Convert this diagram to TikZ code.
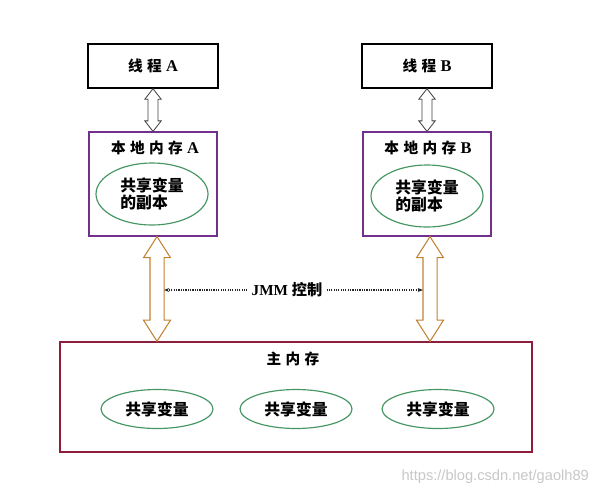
\documentclass[tikz,border=0pt]{standalone}
\usepackage{fontspec}
\setmainfont{Liberation Serif}
\newfontfamily\cjk{Noto Sans CJK SC}
\newfontfamily\wmfont{Liberation Sans}
\usetikzlibrary{positioning,calc,shapes.geometric,arrows.meta}

\definecolor{localcol}{RGB}{112,48,140}
\definecolor{maincol}{RGB}{140,30,60}
\definecolor{varcol}{RGB}{70,150,100}
\definecolor{ctlcol}{RGB}{195,130,50}

\tikzset{
  threadbox/.style={draw=black,line width=1.2pt,minimum width=130\px,minimum height=44\px,font=\bfseries\fontsize{12.5}{14}\selectfont},
  localbox/.style={draw=localcol,line width=1pt,minimum width=128\px,minimum height=104\px},
  mainbox/.style={draw=maincol,line width=1.2pt,minimum width=472\px,minimum height=110\px},
  var/.style={ellipse,draw=varcol,line width=1pt,minimum width=112\px,inner sep=0pt,font=\cjk\bfseries\fontsize{13.5}{15}\selectfont,align=left},
  heading/.style={font=\bfseries\fontsize{12.5}{14}\selectfont},
  jmmline/.style={densely dotted,line width=1pt,black!85,-{Stealth[length=4.5pt]}},
}
% one pixel of the reference
\newlength{\px}\setlength{\px}{0.03cm}

% open double arrow between two points: #1 top, #2 bottom, #3 style, #4 shaft, #5 head, #6 head length
\newcommand{\dblarrow}[6]{%
  \draw[#3] let \p1=(#1), \p2=(#2) in
    (\x1,\y1) -- ++(#5,-#6) -- (\x1+#4,\y1-#6) -- (\x1+#4,\y2+#6) -- (\x1+#5,\y2+#6)
    -- (\x2,\y2) -- (\x1-#5,\y2+#6) -- (\x1-#4,\y2+#6) -- (\x1-#4,\y1-#6)
    -- (\x1-#5,\y1-#6) -- cycle;}
\newcommand{\lat}[1]{{\fontsize{14}{14}\selectfont #1}}

\begin{document}
\begin{tikzpicture}[x=0.03cm,y=-0.03cm]
  \useasboundingbox (0,0) rectangle (600,496);

  % threads
  \node[threadbox] (tA) at (153,66) {{\cjk 线\hspace{0.3em}程}\hspace{0.3em}\lat{A}};
  \node[threadbox] (tB) at (427,66) {{\cjk 线\hspace{0.3em}程}\hspace{0.3em}\lat{B}};

  % local memories
  \node[localbox] (lA) at (153,184) {};
  \node[localbox] (lB) at (427,184) {};
  \node[heading] (hA) at (155,148) {{\cjk 本\hspace{0.3em}地\hspace{0.3em}内\hspace{0.3em}存}\hspace{0.3em}\lat{A}};
  \node[heading] (hB) at (428,148) {{\cjk 本\hspace{0.3em}地\hspace{0.3em}内\hspace{0.3em}存}\hspace{0.3em}\lat{B}};
  \node[var,minimum height=62\px] (cA) at (152,194) {共享变量\\的副本};
  \node[var,minimum height=62\px] (cB) at (427,196) {共享变量\\的副本};

  % main memory
  \node[mainbox] (main) at (296,397) {};
  \node[heading,font=\cjk\bfseries\fontsize{12.5}{14}\selectfont] (hM) at (293,359) {主\hspace{0.3em}内\hspace{0.3em}存};
  \foreach \vx [count=\i] in {157,296,438}
    \node[var,minimum height=39\px] (v\i) at (\vx,409) {共享变量};

  % thread <-> local
  \dblarrow{tA.south}{lA.north}{draw=black!75,line width=0.7pt,fill=white}{4.3pt}{7pt}{9pt}
  \dblarrow{tB.south}{lB.north}{draw=black!75,line width=0.7pt,fill=white}{4.3pt}{7pt}{9pt}

  % local <-> main
  \coordinate (aA) at ($(lA.south)+(4,0)$);
  \coordinate (aB) at ($(lB.south)+(3,0)$);
  \dblarrow{aA}{aA |- main.north}{draw=ctlcol,line width=0.9pt,fill=white}{6pt}{11.5pt}{18pt}
  \dblarrow{aB}{aB |- main.north}{draw=ctlcol,line width=0.9pt,fill=white}{6pt}{11.5pt}{18pt}

  % JMM control
  \node[font=\bfseries\fontsize{13}{14}\selectfont,inner sep=4\px] (jmm) at (287,290) {JMM {\cjk 控制}};
  \coordinate (ctlA) at (164,290);
  \coordinate (ctlB) at (423,290);
  \draw[jmmline] (jmm.west) -- (ctlA);
  \draw[jmmline] (jmm.east) -- (ctlB);

  % watermark
  \node[font=\wmfont\fontsize{12.5}{14}\selectfont,text=black!22,anchor=east] (wm) at (593,477) {https://blog.csdn.net/gaolh89};
\end{tikzpicture}
\end{document}
